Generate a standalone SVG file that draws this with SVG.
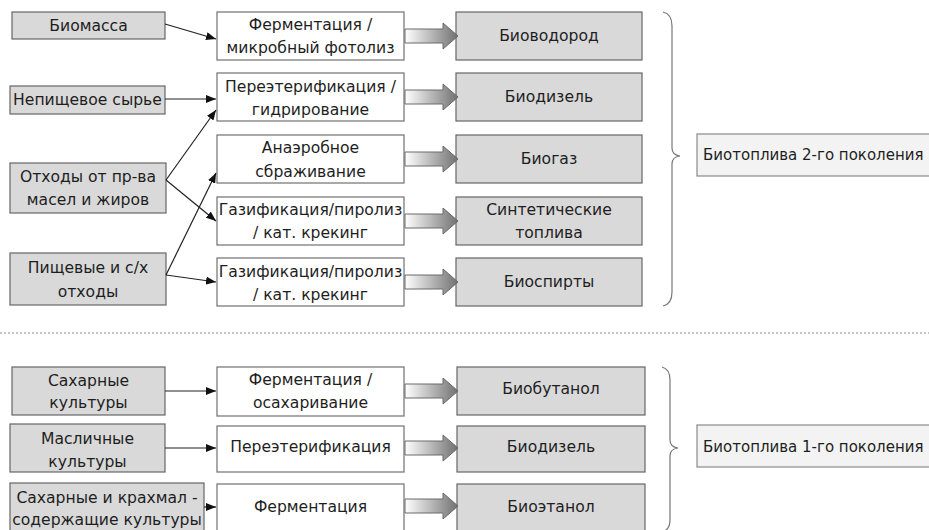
<svg xmlns="http://www.w3.org/2000/svg" width="929" height="530" viewBox="0 0 929 530">
<defs>
<style>
.g{fill:#d9d9d9;stroke:#666;stroke-width:1.2}
.w{fill:#fff;stroke:#707070;stroke-width:1.2}
.gen{fill:#f3f3f3;stroke:#8a8a8a;stroke-width:1.2}
text{font-family:"DejaVu Sans","Open Sans",sans-serif;font-size:15.6px;fill:#1e1e1e;text-anchor:middle;dominant-baseline:central}
.l{text-anchor:start;font-size:15px}
.c{fill:none;stroke:#222;stroke-width:1.2}
.fat{fill:url(#fg);stroke:#6a6a6a;stroke-width:1}
.br{fill:none;stroke:#777;stroke-width:1.2}
</style>
<linearGradient id="fg" x1="0" y1="0" x2="1" y2="0">
<stop offset="0" stop-color="#ffffff"/>
<stop offset="1" stop-color="#707070"/>
</linearGradient>
<marker id="ah" viewBox="0 0 10 8" refX="10" refY="4" markerWidth="10" markerHeight="8" markerUnits="userSpaceOnUse" orient="auto">
<path d="M0,0 L10,4 L0,8 Z" fill="#111"/>
</marker>
</defs>

<!-- Top section: sources -->
<g id="n-biomassa"><rect class="g" x="12" y="12" width="153" height="27"/><text x="88.5" y="25.5">Биомасса</text></g>
<g id="n-nepishch"><rect class="g" x="10" y="86" width="155" height="28"/><text x="87.5" y="100">Непищевое сырье</text></g>
<g id="n-othody-masel"><rect class="g" x="10" y="163" width="156" height="50"/><text x="88" y="177">Отходы от пр-ва</text><text x="88" y="200">масел и жиров</text></g>
<g id="n-pishch-othody"><rect class="g" x="10" y="253" width="156" height="52"/><text x="88" y="268">Пищевые и с/х</text><text x="88" y="292">отходы</text></g>

<!-- Top section: processes -->
<g id="p-ferm-foto"><rect class="w" x="217" y="12" width="187" height="48"/><text x="310.5" y="25">Ферментация /</text><text x="310.5" y="48">микробный фотолиз</text></g>
<g id="p-pereet-gidr"><rect class="w" x="217" y="73" width="187" height="48"/><text x="310.5" y="87">Переэтерификация /</text><text x="310.5" y="110">гидрирование</text></g>
<g id="p-anaerob"><rect class="w" x="217" y="135" width="187" height="48"/><text x="310.5" y="148">Анаэробное</text><text x="310.5" y="172">сбраживание</text></g>
<g id="p-gaz1"><rect class="w" x="217" y="197" width="187" height="48"/><text x="310.5" y="210">Газификация/пиролиз</text><text x="310.5" y="233">/ кат. крекинг</text></g>
<g id="p-gaz2"><rect class="w" x="217" y="258" width="187" height="48"/><text x="310.5" y="272">Газификация/пиролиз</text><text x="310.5" y="295">/ кат. крекинг</text></g>

<!-- Top section: products -->
<g id="r-biovodorod"><rect class="g" x="456" y="12" width="186" height="48"/><text x="549" y="36">Биоводород</text></g>
<g id="r-biodizel2"><rect class="g" x="456" y="73" width="186" height="48"/><text x="549" y="97">Биодизель</text></g>
<g id="r-biogaz"><rect class="g" x="456" y="135" width="186" height="48"/><text x="549" y="159">Биогаз</text></g>
<g id="r-sintet"><rect class="g" x="456" y="197" width="186" height="48"/><text x="549" y="210">Синтетические</text><text x="549" y="233">топлива</text></g>
<g id="r-biospirty"><rect class="g" x="456" y="258" width="186" height="48"/><text x="549" y="282">Биоспирты</text></g>

<g id="gen2"><path class="br" d="M663,12 Q672,14 672,26 V148 Q672,155 680,156 Q672,157 672,164 V292 Q672,304 663,306"/><rect class="gen" x="697" y="134" width="245" height="42"/><text class="l" x="703" y="155">Биотоплива 2-го поколения</text></g>

<line x1="0" y1="333" x2="929" y2="333" stroke="#8a8a8a" stroke-width="1.2" stroke-dasharray="2 2"/>

<!-- Bottom section -->
<g id="n-sahar"><rect class="g" x="12" y="367" width="153" height="48"/><text x="88.5" y="381">Сахарные</text><text x="88.5" y="403">культуры</text></g>
<g id="n-maslich"><rect class="g" x="10" y="424" width="155" height="48"/><text x="87.5" y="439">Масличные</text><text x="87.5" y="462">культуры</text></g>
<g id="n-krahmal"><rect class="g" x="10" y="483" width="194" height="52"/><text x="107" y="498">Сахарные и крахмал -</text><text x="107" y="520">содержащие культуры</text></g>

<g id="p-ferm-osah"><rect class="w" x="217" y="367" width="187" height="49"/><text x="310.5" y="380">Ферментация /</text><text x="310.5" y="403">осахаривание</text></g>
<g id="p-pereet"><rect class="w" x="217" y="426" width="187" height="46"/><text x="310.5" y="447">Переэтерификация</text></g>
<g id="p-ferm"><rect class="w" x="217" y="484" width="187" height="50"/><text x="310.5" y="507">Ферментация</text></g>

<g id="r-biobutanol"><rect class="g" x="457" y="367" width="188" height="48"/><text x="551" y="389">Биобутанол</text></g>
<g id="r-biodizel1"><rect class="g" x="457" y="426" width="188" height="46"/><text x="551" y="447">Биодизель</text></g>
<g id="r-bioetanol"><rect class="g" x="457" y="484" width="188" height="50"/><text x="551" y="507">Биоэтанол</text></g>

<g id="gen1"><path class="br" d="M662,367 Q670,369 670,380 V440 Q670,447 678,448 Q670,449 670,456 V520 Q670,530 662,532"/><rect class="gen" x="697" y="425" width="245" height="42"/><text class="l" x="703" y="447">Биотоплива 1-го поколения</text></g>

<!-- Connectors -->
<g id="connectors">
<line class="c" x1="165" y1="24" x2="216" y2="39" marker-end="url(#ah)"/>
<line class="c" x1="165" y1="99" x2="216" y2="99" marker-end="url(#ah)"/>
<line class="c" x1="166" y1="180" x2="216" y2="110" marker-end="url(#ah)"/>
<line class="c" x1="166" y1="180" x2="216" y2="221" marker-end="url(#ah)"/>
<line class="c" x1="166" y1="275" x2="216" y2="173" marker-end="url(#ah)"/>
<line class="c" x1="166" y1="275" x2="216" y2="282" marker-end="url(#ah)"/>
<line class="c" x1="165" y1="391" x2="216" y2="391" marker-end="url(#ah)"/>
<line class="c" x1="165" y1="448" x2="216" y2="448" marker-end="url(#ah)"/>
<line class="c" x1="204" y1="507" x2="216" y2="507" marker-end="url(#ah)"/>
<path class="fat" d="M405,29 H443 V23 L458,36 L443,49 V43 H405 Z"/>
<path class="fat" d="M405,90 H443 V84 L458,97 L443,110 V104 H405 Z"/>
<path class="fat" d="M405,152 H443 V146 L458,159 L443,172 V166 H405 Z"/>
<path class="fat" d="M405,214 H443 V208 L458,221 L443,234 V228 H405 Z"/>
<path class="fat" d="M405,275 H443 V269 L458,282 L443,295 V289 H405 Z"/>
<path class="fat" d="M405,384 H443 V378 L458,391 L443,404 V398 H405 Z"/>
<path class="fat" d="M405,441 H443 V435 L458,448 L443,461 V455 H405 Z"/>
<path class="fat" d="M405,499 H443 V493 L458,506 L443,519 V513 H405 Z"/>
</g>
</svg>
